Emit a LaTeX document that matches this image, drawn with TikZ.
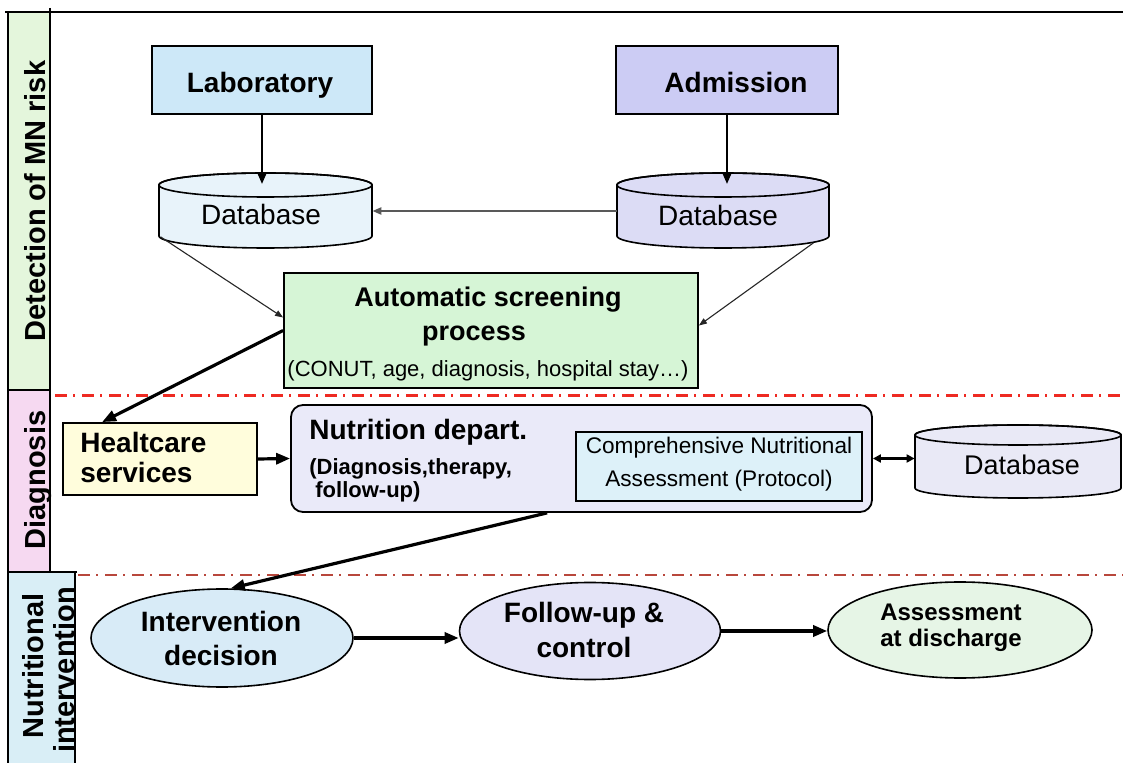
\documentclass[tikz,border=0pt]{standalone}
\usepackage{fontspec}
\setmainfont{Liberation Sans}
\usetikzlibrary{arrows.meta,shapes.geometric,calc}
\definecolor{lanegreen}{HTML}{E4F6DC}
\definecolor{lanepink}{HTML}{F6D9F1}
\definecolor{laneblue}{HTML}{D9EEF6}
\definecolor{labfill}{HTML}{CDE8F8}
\definecolor{admfill}{HTML}{CCCCF4}
\definecolor{dbafill}{HTML}{E8F3FA}
\definecolor{dbbfill}{HTML}{DCDCF5}
\definecolor{scrfill}{HTML}{D6F5D6}
\definecolor{hcfill}{HTML}{FFFDDC}
\definecolor{nutfill}{HTML}{EAEAF9}
\definecolor{cnafill}{HTML}{DDF1F9}
\definecolor{dbcfill}{HTML}{E9E9F6}
\definecolor{intfill}{HTML}{D8EBF7}
\definecolor{fufill}{HTML}{E4E4F7}
\definecolor{adfill}{HTML}{E6F5E6}
\definecolor{dashred}{HTML}{EE2A22}
\definecolor{dashbrown}{HTML}{B8473C}
\begin{document}
\begin{tikzpicture}[x=0.5pt,y=-0.5pt,
  boxnode/.style={draw=black, line width=0.9pt, inner sep=0pt},
  ellnode/.style={ellipse, draw=black, line width=0.8pt, inner sep=0pt},
  holder/.style={inner sep=0pt},
  txt/.style={inner sep=0pt, anchor=base},
  txtl/.style={inner sep=0pt, anchor=base west},
  bigbf/.style={font=\fontsize{14}{16}\selectfont\bfseries},
  midbf/.style={font=\fontsize{13.5}{16}\selectfont\bfseries},
  smallbf/.style={font=\fontsize{11}{13}\selectfont\bfseries},
  ellbf/.style={font=\fontsize{12}{14}\selectfont\bfseries},
  dbtxt/.style={font=\fontsize{14}{16}\selectfont},
  smalltxt/.style={font=\fontsize{11}{13}\selectfont},
  lanelab/.style={inner sep=0pt, rotate=90, anchor=base, font=\fontsize{14.5}{16}\selectfont\bfseries},
  frame/.style={line width=0.75pt, draw=black},
  marr/.style={-{Triangle[length=5pt,width=4pt]}, line width=1pt},
  barr/.style={-{Triangle[length=7pt,width=5.5pt]}, line width=1.6pt},
  garr/.style={-{Triangle[length=4.5pt,width=3.5pt]}, line width=1.1pt, draw=black!65, color=black!65},
  tarr/.style={-{Triangle[length=4pt,width=3pt]}, line width=0.55pt, draw=black!85},
  darr/.style={{Triangle[length=4pt,width=4pt]}-{Triangle[length=4pt,width=4pt]}, line width=1.3pt},
  dashdot/.style={dash pattern=on 6pt off 3pt on 1pt off 3.5pt}
]
\useasboundingbox (0,0) rectangle (1123,763);
\fill[white] (0,0) rectangle (1123,763);

% lanes
\fill[lanegreen] (8,12) rectangle (50,390);
\fill[lanepink] (8,390) rectangle (50,572);
\fill[laneblue] (8,572) rectangle (75,763);
\draw[frame] (5,12) -- (1123,12);
\draw[frame] (8,12) -- (8,763);
\draw[frame] (50,8) -- (50,572);
\draw[frame] (8,390) -- (50,390);
\draw[frame] (8,572) -- (77,572);
\draw[frame] (75,572) -- (75,763);
\node[lanelab] (laneA) at (45,201) {Detection of MN risk};
\node[lanelab] (laneB) at (45,480) {Diagnosis};
\node[lanelab] (laneC1) at (43,666) {Nutritional};
\node[lanelab] (laneC2) at (74,670) {intervention};

% separators
\draw[dashred, line width=1.5pt, dashdot] (55,396) -- (1123,396);
\draw[dashbrown, line width=1.2pt, dashdot] (78,575) -- (1123,575);

% top boxes
\node[boxnode, fill=labfill, minimum width=110pt, minimum height=34pt] (lab) at (262,80) {};
\node[txt, bigbf] (labT) at (260,93) {Laboratory};
\node[boxnode, fill=admfill, minimum width=111pt, minimum height=34pt] (adm) at (727,80) {};
\node[txt, bigbf] (admT) at (736,93) {Admission};

% databases
\filldraw[fill=dbafill, line width=0.8pt] (159,185) -- (159,236) arc[start angle=180,end angle=360,x radius=53.25pt,y radius=6pt] -- (372,185) arc[start angle=0,end angle=180,x radius=53.25pt,y radius=6pt] -- cycle;
\draw[line width=0.8pt] (265.5,185) ellipse [x radius=53.25pt, y radius=6pt];
\node[holder, minimum width=106.5pt, minimum height=37.5pt] (dba) at (265.5,211) {};
\node[txt, dbtxt] (dbaT) at (261,225) {Database};
\coordinate (dbatop) at (265.5,184);

\filldraw[fill=dbbfill, line width=0.8pt] (617,185) -- (617,236) arc[start angle=180,end angle=360,x radius=53pt,y radius=6pt] -- (829,185) arc[start angle=0,end angle=180,x radius=53pt,y radius=6pt] -- cycle;
\draw[line width=0.8pt] (723,185) ellipse [x radius=53pt, y radius=6pt];
\node[holder, minimum width=106pt, minimum height=37.5pt] (dbb) at (723,211) {};
\node[txt, dbtxt] (dbbT) at (718,226) {Database};
\coordinate (dbbtop) at (723,184);

% screening
\node[boxnode, fill=scrfill, minimum width=207pt, minimum height=57.5pt] (screen) at (491,330.5) {};
\node[txt, midbf] (scrT1) at (488,307) {Automatic screening};
\node[txt, midbf] (scrT2) at (474,341) {process};
\node[txt, smalltxt] (scrT3) at (488,377) {(CONUT, age, diagnosis, hospital stay…)};

% diagnosis row
\node[boxnode, fill=hcfill, minimum width=97pt, minimum height=36pt] (health) at (160,459) {};
\node[txtl, bigbf] (hcT1) at (80,453) {Healtcare};
\node[txtl, bigbf] (hcT2) at (80,483) {services};

\node[draw=black, line width=0.9pt, inner sep=0pt, rounded corners=6pt, fill=nutfill, minimum width=290.5pt, minimum height=53.5pt] (nut) at (581.5,458.5) {};
\node[txtl, bigbf] (nutT1) at (309,440) {Nutrition depart.};
\node[txtl, smallbf] (nutT2) at (309,475) {(Diagnosis,therapy,};
\node[txtl, smallbf] (nutT3) at (315,498) {follow-up)};

\node[boxnode, fill=cnafill, minimum width=143pt, minimum height=34.5pt] (cna) at (719,466.5) {};
\node[txt, font=\fontsize{11.3}{13}\selectfont] (cnaT1) at (719,454) {Comprehensive Nutritional};
\node[txt, font=\fontsize{11.3}{13}\selectfont] (cnaT2) at (719,487) {Assessment (Protocol)};

\filldraw[fill=dbcfill, line width=0.8pt] (915,435) -- (915,488) arc[start angle=180,end angle=360,x radius=51.5pt,y radius=5pt] -- (1121,435) arc[start angle=0,end angle=180,x radius=51.5pt,y radius=5pt] -- cycle;
\draw[line width=0.8pt] (1018,435) ellipse [x radius=51.5pt, y radius=5pt];
\node[holder, minimum width=103pt, minimum height=36.5pt] (dbc) at (1018,461.5) {};
\node[txt, font=\fontsize{13.5}{16}\selectfont] (dbcT) at (1022,475) {Database};

% intervention row
\node[ellnode, fill=intfill, minimum width=131pt, minimum height=49pt] (int) at (222,638) {};
\node[txt, bigbf] (intT1) at (221,632) {Intervention};
\node[txt, bigbf] (intT2) at (221,665) {decision};
\node[ellnode, fill=fufill, minimum width=130.5pt, minimum height=48.5pt] (fu) at (590,631) {};
\node[txt, bigbf] (fuT1) at (584,622) {Follow-up \&};
\node[txt, bigbf] (fuT2) at (584,657) {control};
\node[ellnode, fill=adfill, minimum width=132pt, minimum height=48pt] (ad) at (960,630) {};
\node[txt, ellbf] (adT1) at (951,620) {Assessment};
\node[txt, ellbf] (adT2) at (951,646) {at discharge};

% connectors
\draw[marr] (lab.south) -- (lab.south |- dbatop);
\draw[marr] (adm.south) -- (adm.south |- dbbtop);
\draw[garr] (dbb.west) -- (dba.east);
\draw[tarr] ($(dba.south west)+(2,-12)$) -- ($(screen.west)+(0,-13)$);
\draw[tarr] ($(dbb.south east)+(-16,-6)$) -- ($(screen.east)+(0,-5)$);
\draw[barr] (screen.west) -- ($(health.north west)+(40,0)$);
\draw[barr] (health.east) -- (nut.west);
\draw[darr] (nut.east) -- (nut.east -| dbc.west);
\draw[barr] ($(nut.south west)+(257,0)$) -- (int.80);
\draw[barr] (int.east) -- (int.east -| fu.west);
\draw[barr] (fu.east) -- (fu.east -| ad.west);
\end{tikzpicture}
\end{document}
